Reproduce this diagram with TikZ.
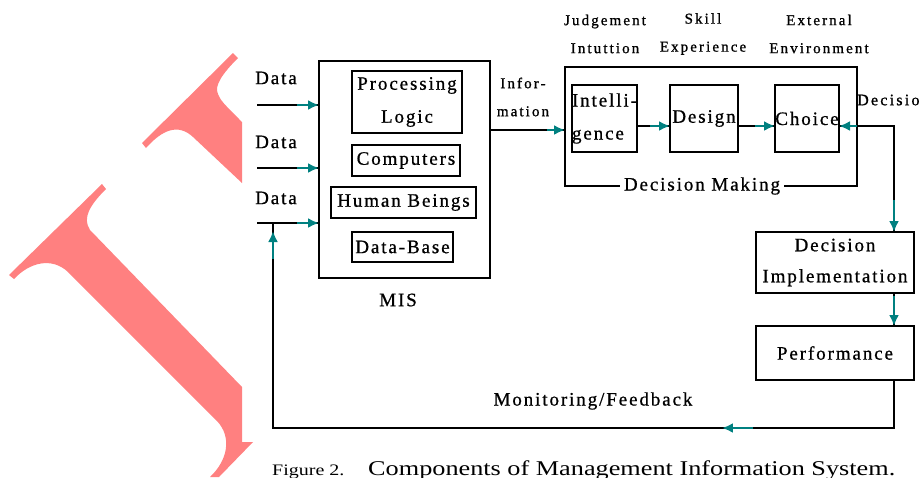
\documentclass[tikz,border=0pt]{standalone}
\usepackage{fontspec}
\setmainfont{Liberation Serif}
\newfontfamily\dfont[LetterSpace=10,FakeBold=0.8]{Liberation Serif}
\newfontfamily\smfont[LetterSpace=14,FakeBold=1]{Liberation Serif}
\newfontfamily\capfont[FakeStretch=1.25]{Liberation Serif}
\usetikzlibrary{arrows.meta,positioning,calc}
\definecolor{arteal}{RGB}{0,128,128}
\definecolor{wmred}{RGB}{255,128,128}
\tikzset{
  box/.style ={draw,line width=1.3pt,inner sep=0pt,outer sep=0pt,align=center,
               font=\dfont\fontsize{19}{31}\selectfont},
  lbl/.style ={inner sep=0pt,align=center,font=\dfont\fontsize{19}{31}\selectfont},
  sml/.style ={inner sep=0pt,align=center,font=\smfont\fontsize{15}{28}\selectfont},
  ln/.style  ={line width=1.3pt},
  tip/.style ={draw=arteal,line width=2.2pt,-{Latex[length=11pt,width=10pt]}},
}
\newcommand{\tarr}[3]{\draw[tip] ($(#2)!#3!(#1)$) -- (#2);}

\begin{document}
\begin{tikzpicture}[x=1pt,y=-1pt]
\useasboundingbox (0,0) rectangle (919,477);
% watermark glyphs
\fill[wmred] (233,53) -- (238,58) .. controls (222,74) and (214,86) .. (218,94)
  .. controls (220,100) and (224,104) .. (242,122) -- (242,183) -- (193,137)
  .. controls (178,123) and (162,130) .. (146,148) -- (142,143) -- cycle;
\fill[wmred] (102,184) -- (106,189) .. controls (90,205) and (82,218) .. (90,230)
  -- (242,387) -- (242,442) -- (253,442) -- (219,477) -- (210,477)
  .. controls (228,460) and (232,437) .. (217,421) -- (68,272)
  .. controls (52,257) and (30,262) .. (14,279) -- (9,275) -- cycle;
% MIS
\node[box,minimum width=171pt,minimum height=217pt] (mis) at (404.5,169.5) {};
\node[box,minimum width=110pt,minimum height=62pt] (proc) at (407,102) {Processing\\[2pt]Logic};
\node[box,minimum width=108pt,minimum height=31pt] (comp) at (406,160.5) {Computers};
\node[box,minimum width=145pt,minimum height=31pt] (human) at (403.5,202.5) {Human Beings};
\node[box,minimum width=101pt,minimum height=30pt] (dbase) at (402.5,247) {Data-Base};
\node[lbl] (mislbl) at (398,300) {MIS};
% data in
\foreach \i/\y/\t in {1/105/78,2/168/142,3/223/198}{
  \node[lbl] (data\i) at (276,\t) {Data};
  \coordinate (d\i) at (257,\y);
  \coordinate (m\i) at (d\i -| mis.west);
  \draw[ln] (d\i) -- (m\i);
  \tarr{d\i}{m\i}{22pt}
}
% decision making
\node[box,minimum width=292pt,minimum height=119pt] (dm) at (711,126.5) {};
\node[lbl,fill=white,inner xsep=4pt] (dmlbl) at ($(dm.south)+(-9,0)$) {Decision Making};
\node[box,align=left,minimum width=65pt,minimum height=67pt] (intel) at (604.5,118.5) {Intelli-\\[2pt]gence};
\node[box,minimum width=68pt,minimum height=67pt] (design) at (704,118.5) {Design};
\node[box,minimum width=64pt,minimum height=67pt] (choice) at (807,118.5) {Choice};
\node[sml] (jud) at (605,34) {Judgement\\Intuttion};
\node[sml] (skill) at (703,34) {Skill\\Experience};
\node[sml] (ext) at (819,34) {External\\Environment};
\node[sml,anchor=west,font=\smfont\fontsize{16}{28}\selectfont] (declbl) at (857,100) {Decision};
% information
\node[sml] (info) at (523,97) {Infor-\\mation};
\coordinate (io) at (mis.east |- 0,130);
\coordinate (ii) at (dm.west |- io);
\draw[ln] (io) -- (ii);
\tarr{io}{ii}{18pt}
% phases
\coordinate (ie) at ($(intel.east)+(0,7.5)$);
\coordinate (dw) at (design.west |- ie);
\coordinate (de) at (design.east |- ie);
\coordinate (cw) at (choice.west |- ie);
\coordinate (ce) at (choice.east |- ie);
\draw[ln] (ie) -- (dw); \tarr{ie}{dw}{20pt}
\draw[ln] (de) -- (cw); \tarr{de}{cw}{20pt}
% implementation
\node[box,minimum width=158pt,minimum height=61pt] (dimpl) at (835,262.5) {Decision\\Implementation};
\node[box,minimum width=158pt,minimum height=54pt] (perf) at (835,353) {Performance};
\coordinate (dn) at ($(dimpl.north)+(59,0)$);
\coordinate (ck) at (dn |- ce);
\draw[ln] (ce) -- (ck) -- (dn);
\tarr{ck}{ce}{18pt}
\tarr{ck}{dn}{32pt}
\coordinate (ds) at (dimpl.south -| dn);
\coordinate (pn) at (perf.north -| dn);
\draw[ln] (ds) -- (pn); \tarr{ds}{pn}{30pt}
% feedback
\coordinate (ps) at (perf.south -| dn);
\coordinate (fbr) at (ps |- 0,428);
\coordinate (fbl) at (273,428);
\coordinate (j3) at (273,223);
\draw[ln] (ps) -- (fbr) -- (fbl) -- (j3);
\draw[tip] ($(fbl)!0.773!(fbr)$) -- ($(fbl)!0.723!(fbr)$);
\draw[tip,shorten >=8pt] ($(j3)!36pt!(fbl)$) -- (j3);
\node[lbl] (fblbl) at (593,401) {Monitoring/Feedback};
% caption
\node[anchor=base west,inner sep=0pt,font=\capfont\fontsize{16}{16}\selectfont] (fig) at (272,475) {Figure 2.};
\node[anchor=base west,inner sep=0pt,font=\capfont\fontsize{21}{21}\selectfont] (capt) at (368,475) {Components of Management Information System.};
\end{tikzpicture}
\end{document}
